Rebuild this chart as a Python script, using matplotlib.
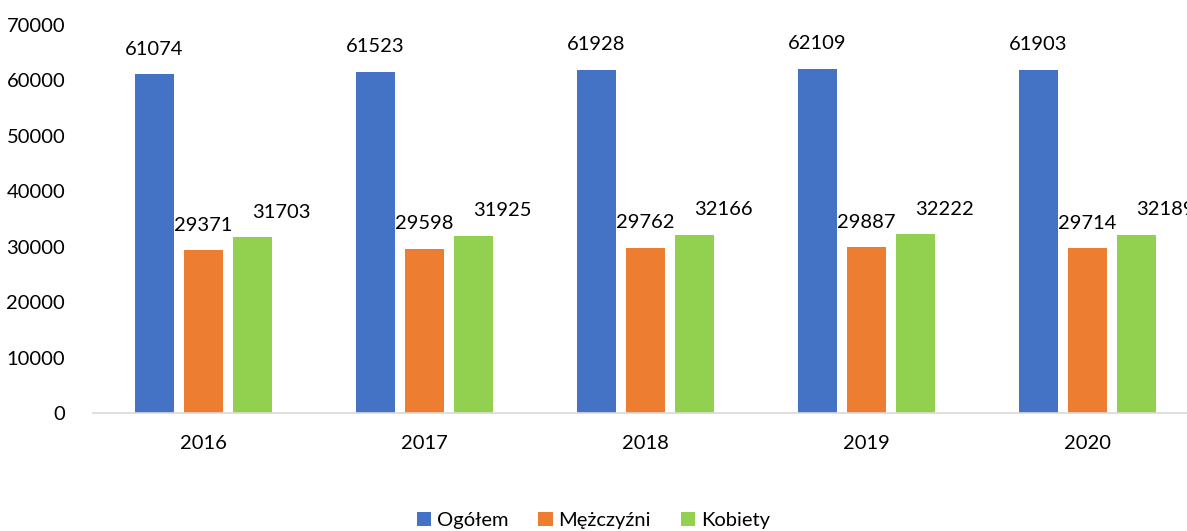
import matplotlib.pyplot as plt
import numpy as np

plt.rcParams['font.family'] = ['Lato', 'DejaVu Sans']

years = ['2016', '2017', '2018', '2019', '2020']
ogolem = [61074, 61523, 61928, 62109, 61903]
mezczyzni = [29371, 29598, 29762, 29887, 29714]
kobiety = [31703, 31925, 32166, 32222, 32189]

fig = plt.figure(figsize=(11.87, 5.31), dpi=100)
# axes runs a bit past the right edge, like the original
ax = fig.add_axes([93/1187, 1-413/531, 1105/1187, 388/531])

x = np.arange(len(years))
w = 39/221
step = 49/221
series = [(ogolem, 'Ogółem', '#4472C4', -step, 0),
          (mezczyzni, 'Mężczyźni', '#ED7D31', 0, 0),
          (kobiety, 'Kobiety', '#92D050', step, 21)]

for vals, name, col, off, dx in series:
    bars = ax.bar(x + off, vals, w, color=col, label=name)
    for b, v in zip(bars, vals):
        ax.annotate(str(v), (b.get_x() + b.get_width()/2, v),
                    xytext=(dx, 12), textcoords='offset points',
                    ha='center', va='bottom', fontsize=14.5)

ax.set_xlim(-0.5, len(years) - 0.5)
ax.set_ylim(0, 70000)
ax.set_yticks(range(0, 70001, 10000))
ax.set_xticks(x)
ax.set_xticklabels(years)
ax.tick_params(length=0, labelsize=14.5)
ax.tick_params(axis='x', pad=16)
ax.tick_params(axis='y', pad=20)
for s in ['top', 'right', 'left']:
    ax.spines[s].set_visible(False)
ax.spines['bottom'].set_color('#d9d9d9')
ax.spines['bottom'].set_linewidth(1.2)

fig.legend(loc='lower center', bbox_to_anchor=(0.5, -0.03), ncol=3, frameon=False,
           fontsize=14.5, handlelength=0.7, handleheight=0.7, handletextpad=0.3,
           columnspacing=1.5)

fig.savefig('out.png', dpi=100)
